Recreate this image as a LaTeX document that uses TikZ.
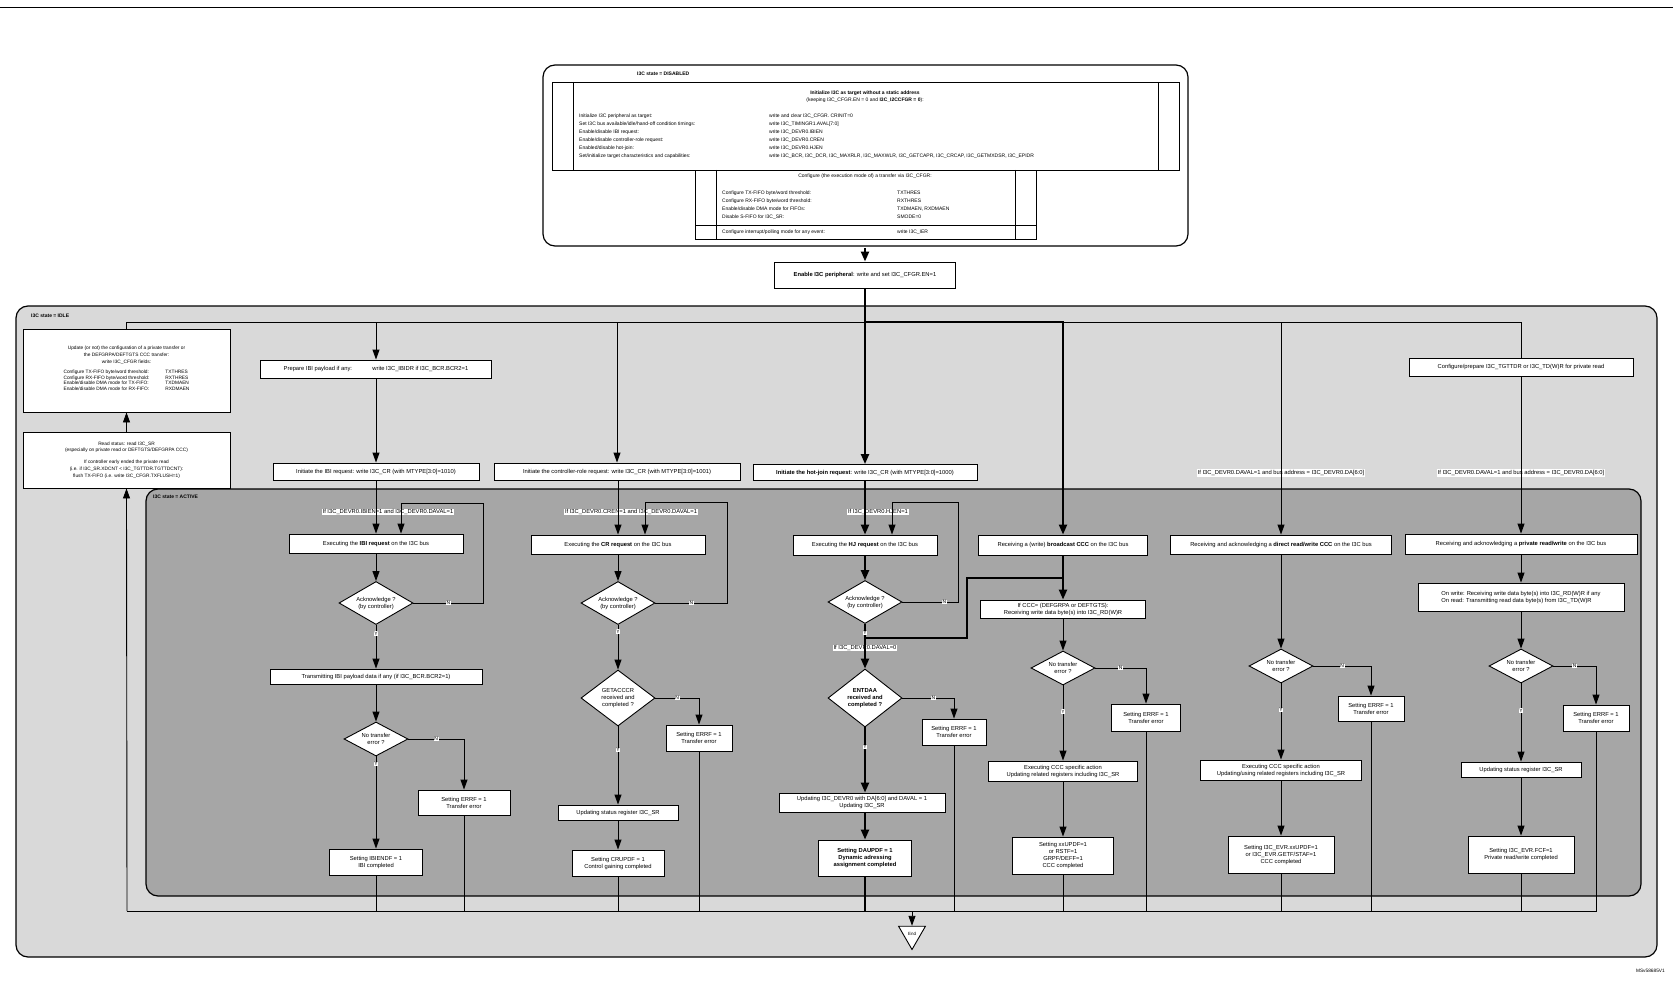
\documentclass[tikz,border=0pt]{standalone}
\usepackage{fontspec}
\setmainfont{Liberation Sans}
\usetikzlibrary{positioning,shapes.geometric,arrows.meta}
\definecolor{idlegray}{HTML}{D9D9D9}
\definecolor{activegray}{HTML}{A6A6A6}
\begin{document}
\begin{tikzpicture}[x=1pt,y=-1pt,
    font=\fontsize{5.8}{7}\selectfont,
    box/.style={draw,fill=white,align=center,inner sep=1pt,line width=0.9pt},
    dec/.style={diamond,aspect=1.7,draw,fill=white,align=center,inner sep=0pt,line width=0.9pt,minimum width=74pt,minimum height=43pt},
    small dec/.style={dec,minimum width=64pt,minimum height=34pt},
    line/.style={line width=0.9pt},
    arr/.style={line,-{Triangle[length=10pt,width=7pt]}},
    thk/.style={line width=2.2pt},
    thkarr/.style={thk,-{Triangle[length=10pt,width=8pt]}},
    yn/.style={fill=white,inner sep=0.6pt,font=\fontsize{5}{5}\selectfont},
    lbl/.style={fill=white,inner sep=0.8pt},
    tab/.style={anchor=west,inner sep=0pt,font=\fontsize{5}{6}\selectfont},
    state/.style={anchor=west,inner sep=0pt,font=\bfseries\fontsize{5}{6}\selectfont}
    ]
    \useasboundingbox (0,0) rectangle (1673,995);
    \draw[line] (0,7.5) -- (1673,7.5);

    % disabled state:
    \draw[line width=1.2pt,fill=white,rounded corners=12pt] (543,65) rectangle (1188,246);
    \node[state] (disabled) at (637,74) {I3C state = DISABLED};
    \draw[line] (552,82) rectangle (1179,170) (573,82) -- (573,170) (1158,82) -- (1158,170);
    \node (init) at (865,93) {\fontsize{5}{6}\selectfont\textbf{Initialize I3C as target without a static address}};
    \node (keep) at (865,100) {\fontsize{5}{6}\selectfont(keeping I3C\_CFGR.EN = 0 and \textbf{I3C\_I2CCFGR = 0}):};
    \foreach \l/\r [count=\i] in {
        {Initialize I3C peripheral as target:}/{write and clear I3C\_CFGR. CRINIT=0},
        {Set I3C bus available/idle/hand-off condition timings:}/{write I3C\_TIMINGR1.AVAL[7:0]},
        {Enable/disable IBI request:}/{write I3C\_DEVR0.IBIEN},
        {Enable/disable controller-role request:}/{write I3C\_DEVR0.CREN},
        {Enabled/disable hot-join:}/{write I3C\_DEVR0.HJEN},
        {Set/initialize target characteristics and capabilities:}/{write I3C\_BCR, I3C\_DCR, I3C\_MAXRLR, I3C\_MAXWLR, I3C\_GETCAPR, I3C\_CRCAP, I3C\_GETMXDSR, I3C\_EPIDR}}
    {
      \node[tab] (tl\i) at (579,108+8*\i) {\l};
      \node[tab] (tr\i) at (769,108+8*\i) {\r};
    }
    \draw[line] (695,170) rectangle (1036,239) (716,170) -- (716,239) (1015,170) -- (1015,239) (695,225) -- (1036,225);
    \node (cfg) at (865,176) {\fontsize{5}{6}\selectfont Configure (the execution mode of) a transfer via I3C\_CFGR:};
    \foreach \l/\r [count=\i] in {
        {Configure TX-FIFO byte/word threshold:}/{TXTHRES},
        {Configure RX-FIFO byte/word threshold:}/{RXTHRES},
        {Enable/disable DMA mode for FIFOs:}/{TXDMAEN, RXDMAEN},
        {Disable S-FIFO for I3C\_SR:}/{SMODE=0}}
    {
      \node[tab] (cl\i) at (722,185+8*\i) {\l};
      \node[tab] (cr\i) at (897,185+8*\i) {\r};
    }
    \node[tab] (ierl) at (722,232) {Configure interrupt/polling mode for any event:};
    \node[tab] (ierr) at (897,232) {write I3C\_IER};

    \node[box,minimum width=181pt,minimum height=26pt] (enable) at (865,275) {\textbf{Enable I3C peripheral}: write and set I3C\_CFGR.EN=1};

    % idle and active states:
    \draw[line width=1.2pt,fill=idlegray,rounded corners=12pt] (16,306) rectangle (1657,957);
    \node[state] (idle) at (31,316) {I3C state = IDLE};
    \draw[line width=1.2pt,fill=activegray,rounded corners=12pt] (146,489) rectangle (1641,896);
    \node[state] (active) at (153,497) {I3C state = ACTIVE};

    \coordinate (tb) at (0,322);
    \coordinate (bb) at (127,911);

    % idle boxes:
    \node[box,minimum width=207pt,minimum height=83pt,font=\fontsize{4.8}{7}\selectfont] (update) at (126.5,370.5) {
      Update (or not) the configuration of a private transfer or\\
      the DEFGRPA/DEFTGTS CCC transfer:\\
      write I3C\_CFGR fields:\\[4pt]
      \begin{tabular}{@{}l@{\hspace{16pt}}l@{}}
        Configure TX-FIFO byte/word threshold: & TXTHRES \\[-1.5pt]
        Configure RX-FIFO byte/word threshold: & RXTHRES \\[-1.5pt]
        Enable/disable DMA mode for TX-FIFO: & TXDMAEN \\[-1.5pt]
        Enable/disable DMA mode for RX-FIFO: & RXDMAEN
      \end{tabular}\\[2pt]
    };
    \node[box,minimum width=207pt,minimum height=56pt,font=\fontsize{4.8}{6.8}\selectfont] (readst) at (126.5,460) {
      Read status: read I3C\_SR\\
      (especially on private read or DEFTGTS/DEFGRPA CCC)\\[5pt]
      If controller early ended the private read\\
      (i.e. if I3C\_SR.XDCNT < I3C\_TGTTDR.TGTTDCNT):\\
      flush TX-FIFO (i.e. write I3C\_CFGR.TXFLUSH=1)
    };
    \node[box,minimum width=231pt,minimum height=18pt] (prep) at (376,369) {Prepare IBI payload if any:\hspace{3.5em}write I3C\_IBIDR if I3C\_BCR.BCR2=1};
    \node[box,minimum width=206pt,minimum height=17pt] (initIBI) at (376,471.5) {Initiate the IBI request: write I3C\_CR (with MTYPE[3:0]=1010)};
    \node[box,minimum width=246pt,minimum height=17pt] (initCR) at (617,471.5) {Initiate the controller-role request: write I3C\_CR (with MTYPE[3:0]=1001)};
    \node[box,minimum width=224pt,minimum height=16pt] (initHJ) at (865,472.5) {\textbf{Initiate the hot-join request}: write I3C\_CR (with MTYPE[3:0]=1000)};
    \node[box,minimum width=224pt,minimum height=18pt] (confPR) at (1521,367) {Configure/prepare I3C\_TGTTDR or I3C\_TD(W)R for private read};
    \node[lbl] (addrD) at (1281,473) {If I3C\_DEVR0.DAVAL=1 and bus address = I3C\_DEVR0.DA[6:0]};
    \node[lbl] (addrP) at (1521,473) {If I3C\_DEVR0.DAVAL=1 and bus address = I3C\_DEVR0.DA[6:0]};

    % IBI column:
    \node[lbl] (ibien) at (388,512) {If I3C\_DEVR0.IBIEN=1 and I3C\_DEVR0.DAVAL=1};
    \node[box,minimum width=174pt,minimum height=19pt] (execIBI) at (376,543.5) {Executing the \textbf{IBI request} on the I3C bus};
    \node[dec] (ackIBI) at (376,603) {Acknowledge ?\\(by controller)};
    \node[box,minimum width=212pt,minimum height=15pt] (trIBI) at (376,676.5) {Transmitting IBI payload data if any (if I3C\_BCR.BCR2=1)};
    \node[small dec] (nteIBI) at (376,739) {No transfer\\error ?};
    \node[box,minimum width=92pt,minimum height=25pt] (errIBI) at (464,802.5) {Setting ERRF = 1\\Transfer error};
    \node[box,minimum width=93pt,minimum height=26pt] (ibiend) at (376,862) {Setting IBIENDF = 1\\IBI completed};

    % CR column:
    \node[lbl] (cren) at (631,512) {If I3C\_DEVR0.CREN=1 and I3C\_DEVR0.DAVAL=1};
    \node[box,minimum width=174pt,minimum height=19pt] (execCR) at (618,544.5) {Executing the \textbf{CR request} on the I3C bus};
    \node[dec] (ackCR) at (618,603) {Acknowledge ?\\(by controller)};
    \node[dec,minimum height=56pt] (getacc) at (618,698) {GETACCCR\\received and\\completed ?};
    \node[box,minimum width=66pt,minimum height=26pt] (errCR) at (699,738) {Setting ERRF = 1\\Transfer error};
    \node[box,minimum width=120pt,minimum height=15pt] (updCR) at (618,812.5) {Updating status register I3C\_SR};
    \node[box,minimum width=92pt,minimum height=26pt] (crupd) at (618,863) {Setting CRUPDF = 1\\Control gaining completed};

    % HJ column:
    \node[lbl] (hjen) at (878,512) {If I3C\_DEVR0.HJEN=1};
    \node[box,minimum width=144pt,minimum height=20pt] (execHJ) at (865,545) {Executing the \textbf{HJ request} on the I3C bus};
    \node[dec] (ackHJ) at (865,602) {Acknowledge ?\\(by controller)};
    \node[lbl] (daval) at (865,648) {If I3C\_DEVR0.DAVAL=0};
    \node[dec,minimum height=58pt,font=\bfseries\fontsize{5.8}{7}\selectfont] (entdaa) at (865,698) {ENTDAA\\received and\\completed ?};
    \node[box,minimum width=64pt,minimum height=26pt] (errHJ) at (954,732) {Setting ERRF = 1\\Transfer error};
    \node[box,minimum width=166pt,minimum height=19pt] (updDEV) at (862,802.5) {Updating I3C\_DEVR0 with DA[6:0] and DAVAL = 1\\Updating I3C\_SR};
    \node[box,minimum width=93pt,minimum height=36pt,font=\bfseries\fontsize{5.8}{7}\selectfont] (daupd) at (865,858) {Setting DAUPDF = 1\\Dynamic adressing\\assignment completed};

    % broadcast column:
    \node[box,minimum width=169pt,minimum height=20pt] (bcast) at (1063,545) {Receiving a (write) \textbf{broadcast CCC} on the I3C bus};
    \node[box,minimum width=165pt,minimum height=18pt] (ifccc) at (1063,609) {If CCC= (DEFGRPA or DEFTGTS):\\Receiving write data byte(s) into I3C\_RD(W)R};
    \node[small dec] (nteB) at (1063,668) {No transfer\\error ?};
    \node[box,minimum width=69pt,minimum height=27pt] (errB) at (1146,717.5) {Setting ERRF = 1\\Transfer error};
    \node[box,minimum width=149pt,minimum height=20pt] (execB) at (1063,771) {Executing CCC specific action\\Updating related registers including I3C\_SR};
    \node[box,minimum width=101pt,minimum height=37pt] (xxupd) at (1063,855.5) {Setting xxUPDF=1\\or RSTF=1\\GRPF/DEFF=1\\CCC completed};

    % direct column:
    \node[box,minimum width=221pt,minimum height=19pt] (direct) at (1281,544.5) {Receiving and acknowledging a \textbf{direct read/write CCC} on the I3C bus};
    \node[small dec] (nteD) at (1281,666) {No transfer\\error ?};
    \node[box,minimum width=66pt,minimum height=25pt] (errD) at (1371,708.5) {Setting ERRF = 1\\Transfer error};
    \node[box,minimum width=161pt,minimum height=20pt] (execD) at (1281,770) {Executing CCC specific action\\Updating/using related registers including I3C\_SR};
    \node[box,minimum width=106pt,minimum height=37pt] (evrD) at (1281,854.5) {Setting I3C\_EVR.xxUPDF=1\\or I3C\_EVR.GETF/STAF=1\\CCC completed};

    % private column:
    \node[box,minimum width=232pt,minimum height=20pt] (priv) at (1521,544) {Receiving and acknowledging a \textbf{private read/write} on the I3C bus};
    \node[box,minimum width=206pt,minimum height=28pt,align=left] (onwr) at (1521,597) {On write: Receiving write data byte(s) into I3C\_RD(W)R if any\\On read: Transmitting read data byte(s) from I3C\_TD(W)R};
    \node[small dec] (nteP) at (1521,666) {No transfer\\error ?};
    \node[box,minimum width=66pt,minimum height=26pt] (errP) at (1596,718) {Setting ERRF = 1\\Transfer error};
    \node[box,minimum width=120pt,minimum height=15pt] (updP) at (1521,769.5) {Updating status register I3C\_SR};
    \node[box,minimum width=106pt,minimum height=37pt] (fcf) at (1521,854.5) {Setting I3C\_EVR.FCF=1\\Private read/write completed};

    \node[draw,fill=white,line width=0.9pt,regular polygon,regular polygon sides=3,shape border rotate=180,minimum size=31pt,inner sep=0pt,font=\fontsize{4.5}{5}\selectfont] (end) at (912,934) {End};
    \node[anchor=east,inner sep=0pt,font=\fontsize{4.8}{5}\selectfont] (ref) at (1665,971) {MSv58685V1};

    % connections, start and buses:
    \draw[thkarr] (disabled.south -| enable.north) ++(0,172) -- (enable.north);
    \draw[thkarr] (enable.south) -- (initHJ.north);
    \draw[thkarr] (enable.south |- tb) -| (bcast.north);
    \draw[line] (update.north) |- (enable.south |- tb);
    \draw[line] (bcast.north |- tb) -| (confPR.north);
    \foreach \n in {prep,initCR,direct}
    \draw[arr] (\n.north |- tb) -- (\n.north);
    \draw[arr] (prep.south) -- (initIBI.north);
    \draw[arr] (confPR.south) -- (priv.north);
    \foreach \n in {ibiend,errIBI,crupd,errCR,daupd,errHJ,xxupd,errB,evrD,errD,fcf}
    \draw[line] (\n.south) -- (\n.south |- bb);
    \draw[thk] (daupd.south) -- (daupd.south |- bb);
    \draw[line] (errP.south) |- (bb);
    \draw[arr] (bb) -- (readst.south);
    \draw[arr] (readst.north) -- (update.south);
    \draw[arr] (end.north |- bb) -- (end.north);

    % IBI:
    \coordinate (lpIBI) at (401,503);
    \draw[arr] (initIBI.south) -- (execIBI.north);
    \draw[arr] (execIBI.south) -- (ackIBI.north);
    \draw[arr] (ackIBI.east) -- node[yn,pos=0.5]{N} ++(70,0) |- (lpIBI) -- (lpIBI |- execIBI.north);
    \draw[arr] (ackIBI.south) -- node[yn,pos=0.2]{Y} (trIBI.north);
    \draw[arr] (trIBI.south) -- (nteIBI.north);
    \draw[arr] (nteIBI.east) -- node[yn,pos=0.5]{N} (nteIBI.east -| errIBI.north) -- (errIBI.north);
    \draw[arr] (nteIBI.south) -- node[yn,pos=0.08]{Y} (ibiend.north);

    % CR:
    \coordinate (lpCR) at (645,502);
    \draw[arr] (initCR.south -| execCR.north) -- (execCR.north);
    \draw[arr] (execCR.south) -- (ackCR.north);
    \draw[arr] (ackCR.east) -- node[yn,pos=0.5]{N} ++(72,0) |- (lpCR) -- (lpCR |- execCR.north);
    \draw[arr] (ackCR.south) -- node[yn,pos=0.15]{Y} (getacc.north);
    \draw[arr] (getacc.east) -- node[yn,pos=0.5]{N} (getacc.east -| errCR.north) -- (errCR.north);
    \draw[arr] (getacc.south) -- node[yn,pos=0.3]{Y} (updCR.north);
    \draw[arr] (updCR.south) -- (crupd.north);

    % HJ and broadcast:
    \coordinate (lpHJ) at (892,502);
    \coordinate (bj) at (1063,578);
    \coordinate (hj) at (967,638);
    \draw[thkarr] (initHJ.south) -- (execHJ.north);
    \draw[thkarr] (execHJ.south) -- (ackHJ.north);
    \draw[arr] (ackHJ.east) -- node[yn,pos=0.75]{N} ++(56,0) |- (lpHJ) -- (lpHJ |- execHJ.north);
    \draw[thk] (bcast.south) -- (bj) -| (hj) -- (hj -| ackHJ.south);
    \draw[thkarr] (ackHJ.south) -- node[yn,pos=0.2]{Y} (entdaa.north);
    \draw[thkarr] (bj) -- (ifccc.north);
    \draw[arr] (entdaa.east) -- node[yn,pos=0.6]{N} (entdaa.east -| errHJ.north) -- (errHJ.north);
    \draw[thkarr] (entdaa.south) -- node[yn,pos=0.3]{Y} (entdaa.south |- updDEV.north);
    \draw[thkarr] (entdaa.south |- updDEV.south) -- (daupd.north);
    \draw[arr] (ifccc.south) -- (nteB.north);
    \draw[arr] (nteB.east) -- node[yn,pos=0.5]{N} (nteB.east -| errB.north) -- (errB.north);
    \draw[arr] (nteB.south) -- node[yn,pos=0.35]{Y} (execB.north);
    \draw[arr] (execB.south) -- (xxupd.north);

    % direct:
    \draw[arr] (direct.south) -- (nteD.north);
    \draw[arr] (nteD.east) -- node[yn,pos=0.5]{N} (nteD.east -| errD.north) -- (errD.north);
    \draw[arr] (nteD.south) -- node[yn,pos=0.35]{Y} (execD.north);
    \draw[arr] (execD.south) -- (evrD.north);

    % private:
    \draw[arr] (priv.south) -- (onwr.north);
    \draw[arr] (onwr.south) -- (nteP.north);
    \draw[arr] (nteP.east) -- node[yn,pos=0.5]{N} (nteP.east -| errP.north) -- (errP.north);
    \draw[arr] (nteP.south) -- node[yn,pos=0.35]{Y} (updP.north);
    \draw[arr] (updP.south) -- (fcf.north);

  \end{tikzpicture}
\end{document}
